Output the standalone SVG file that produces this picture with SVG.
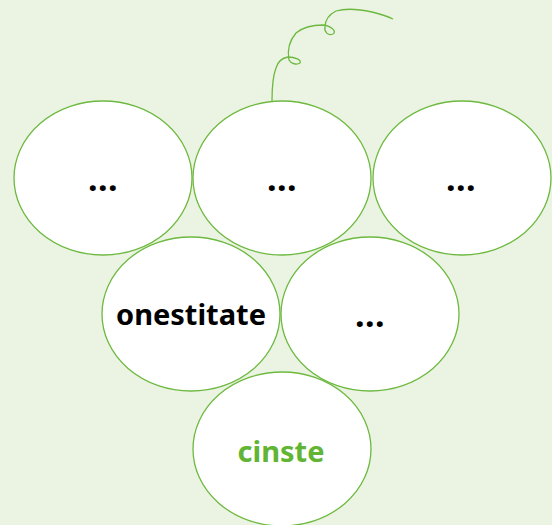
<svg xmlns="http://www.w3.org/2000/svg" width="552" height="525" viewBox="0 0 552 525">
<style>
.f{fill:#ffffff;stroke:none}
.s{fill:none;stroke:#6db93f;stroke-width:1.3}
.t{font-family:"Noto Sans","Open Sans",sans-serif;font-weight:700;font-size:29px;text-anchor:middle;fill:#000000}
.d{font-size:34px;letter-spacing:0.5px}
.g{fill:#62b534}
</style>
<rect width="552" height="525" fill="#ebf4e3"/>
<g id="vine">
<path class="s" d="M272,101 C272,90 272,78 276,68 C278,61 282,58 288,57 C295,57 302,60 300,63 C297,65 291,64 289,60 C287,50 290,40 296,33 C302,28 312,25 323,25 C332,26 337,32 333,34 C328,36 324,32 325,27 C325,20 328,15 336,11 C346,8 358,9 372,12 C380,14 387,16 393,19" stroke-width="1.6"/>
</g>
<g id="fills">
<ellipse class="f" cx="103" cy="178" rx="89" ry="77"/>
<ellipse class="f" cx="282" cy="178" rx="89" ry="77"/>
<ellipse class="f" cx="462" cy="178" rx="89" ry="77"/>
<ellipse class="f" cx="191" cy="314" rx="89" ry="77"/>
<ellipse class="f" cx="370" cy="314" rx="89" ry="77"/>
<ellipse class="f" cx="282" cy="449" rx="89" ry="77"/>
</g>
<g id="n1"><ellipse class="s" cx="103" cy="178" rx="89" ry="77"/><text class="t d" x="103" y="191">...</text></g>
<g id="n2"><ellipse class="s" cx="282" cy="178" rx="89" ry="77"/><text class="t d" x="282" y="191">...</text></g>
<g id="n3"><ellipse class="s" cx="462" cy="178" rx="89" ry="77"/><text class="t d" x="461" y="191">...</text></g>
<g id="n4"><ellipse class="s" cx="191" cy="314" rx="89" ry="77"/><text class="t" x="191" y="325">onestitate</text></g>
<g id="n5"><ellipse class="s" cx="370" cy="314" rx="89" ry="77"/><text class="t d" x="370" y="327">...</text></g>
<g id="n6"><ellipse class="s" cx="282" cy="449" rx="89" ry="77"/><text class="t g" x="281" y="462">cinste</text></g>
</svg>
